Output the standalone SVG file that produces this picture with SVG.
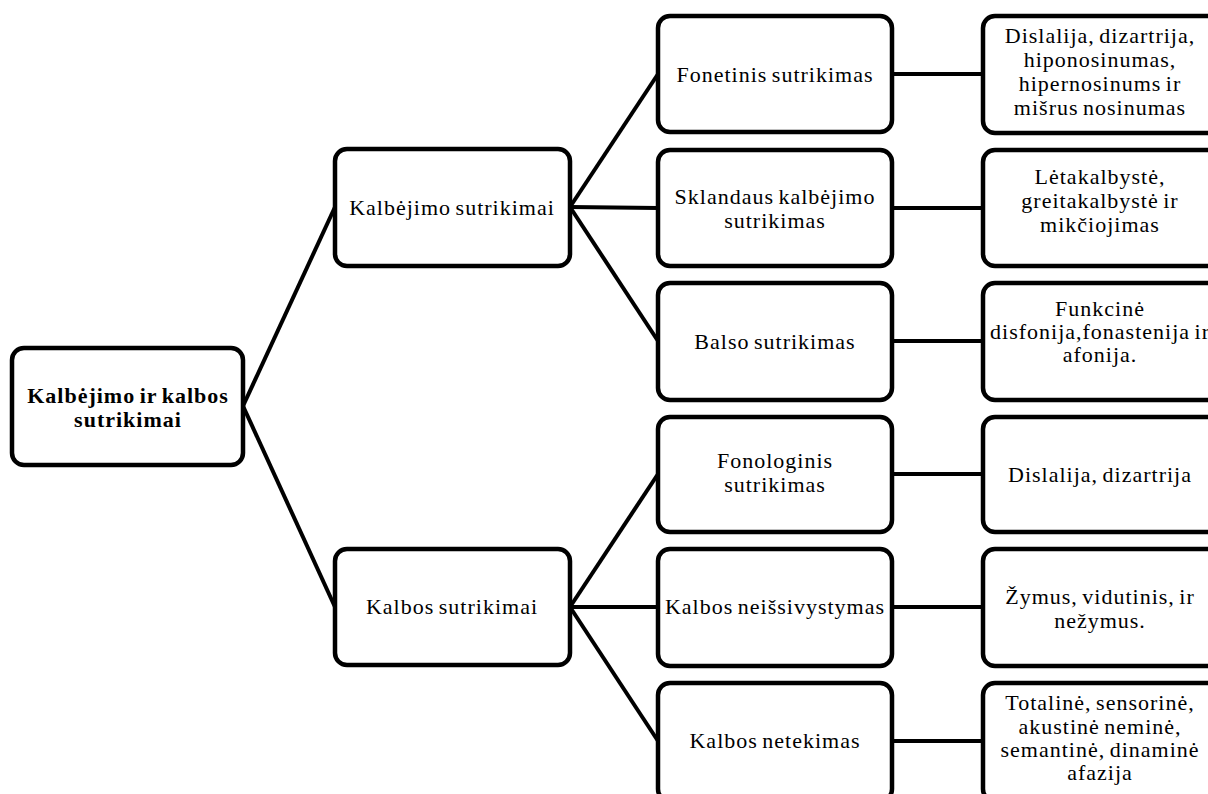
<svg xmlns="http://www.w3.org/2000/svg" width="1208" height="794" viewBox="0 0 1208 794">
<style>
.box{fill:#fff;stroke:#000;stroke-width:4.5}
.t{font-family:"Liberation Serif","Times New Roman",serif;font-size:22px;letter-spacing:1px;word-spacing:-2px;text-anchor:middle;fill:#000}
.b{font-weight:bold}
.c{stroke:#000;stroke-width:4;fill:none}
</style>
<rect width="1208" height="794" fill="#fff"/>
<g id="connectors" class="c">
<line x1="243" y1="406" x2="335" y2="207"/>
<line x1="243" y1="406" x2="335" y2="607"/>
<line x1="570" y1="207" x2="658" y2="74"/>
<line x1="570" y1="207" x2="658" y2="208"/>
<line x1="570" y1="207" x2="658" y2="341"/>
<line x1="570" y1="607" x2="658" y2="474"/>
<line x1="570" y1="607" x2="658" y2="607"/>
<line x1="570" y1="607" x2="658" y2="741"/>
<line x1="892" y1="74" x2="983" y2="74"/>
<line x1="892" y1="208" x2="983" y2="208"/>
<line x1="892" y1="341" x2="983" y2="341"/>
<line x1="892" y1="474" x2="983" y2="474"/>
<line x1="892" y1="607" x2="983" y2="607"/>
<line x1="892" y1="741" x2="983" y2="741"/>
</g>
<g id="root"><rect class="box" x="12" y="348" width="231" height="117" rx="12"/>
<text class="t b" x="128" y="403">Kalbėjimo ir kalbos</text><text class="t b" x="128" y="427">sutrikimai</text></g>
<g id="kalbejimo"><rect class="box" x="335" y="149" width="235" height="117" rx="12"/>
<text class="t" x="452" y="215">Kalbėjimo sutrikimai</text></g>
<g id="kalbos"><rect class="box" x="335" y="549" width="235" height="116" rx="12"/>
<text class="t" x="452" y="614">Kalbos sutrikimai</text></g>
<g id="fonetinis"><rect class="box" x="658" y="16" width="234" height="116" rx="12"/>
<text class="t" x="775" y="82">Fonetinis sutrikimas</text></g>
<g id="sklandaus"><rect class="box" x="658" y="150" width="234" height="116" rx="12"/>
<text class="t" x="775" y="204">Sklandaus kalbėjimo</text><text class="t" x="775" y="228">sutrikimas</text></g>
<g id="balso"><rect class="box" x="658" y="283" width="234" height="117" rx="12"/>
<text class="t" x="775" y="349">Balso sutrikimas</text></g>
<g id="fonologinis"><rect class="box" x="658" y="417" width="234" height="115" rx="12"/>
<text class="t" x="775" y="468">Fonologinis</text><text class="t" x="775" y="492">sutrikimas</text></g>
<g id="neissivystymas"><rect class="box" x="658" y="549" width="234" height="117" rx="12"/>
<text class="t" x="775" y="614">Kalbos neišsivystymas</text></g>
<g id="netekimas"><rect class="box" x="658" y="683" width="234" height="118" rx="12"/>
<text class="t" x="775" y="748">Kalbos netekimas</text></g>
<g id="d1"><rect class="box" x="983" y="16" width="240" height="117" rx="12"/>
<text class="t" x="1100" y="43">Dislalija, dizartrija,</text><text class="t" x="1100" y="67">hiponosinumas,</text><text class="t" x="1100" y="91">hipernosinums ir</text><text class="t" x="1100" y="115">mišrus nosinumas</text></g>
<g id="d2"><rect class="box" x="983" y="150" width="240" height="116" rx="12"/>
<text class="t" x="1100" y="184">Lėtakalbystė,</text><text class="t" x="1100" y="208">greitakalbystė ir</text><text class="t" x="1100" y="232">mikčiojimas</text></g>
<g id="d3"><rect class="box" x="983" y="283" width="240" height="117" rx="12"/>
<text class="t" x="1100" y="316">Funkcinė</text><text class="t" x="1100" y="339">disfonija,fonastenija ir</text><text class="t" x="1100" y="362">afonija.</text></g>
<g id="d4"><rect class="box" x="983" y="417" width="240" height="115" rx="12"/>
<text class="t" x="1100" y="482">Dislalija, dizartrija</text></g>
<g id="d5"><rect class="box" x="983" y="549" width="240" height="117" rx="12"/>
<text class="t" x="1100" y="604">Žymus,  vidutinis, ir</text><text class="t" x="1100" y="628">nežymus.</text></g>
<g id="d6"><rect class="box" x="983" y="683" width="240" height="118" rx="12"/>
<text class="t" x="1100" y="710">Totalinė, sensorinė,</text><text class="t" x="1100" y="734">akustinė neminė,</text><text class="t" x="1100" y="757">semantinė, dinaminė</text><text class="t" x="1100" y="780">afazija</text></g>
</svg>
